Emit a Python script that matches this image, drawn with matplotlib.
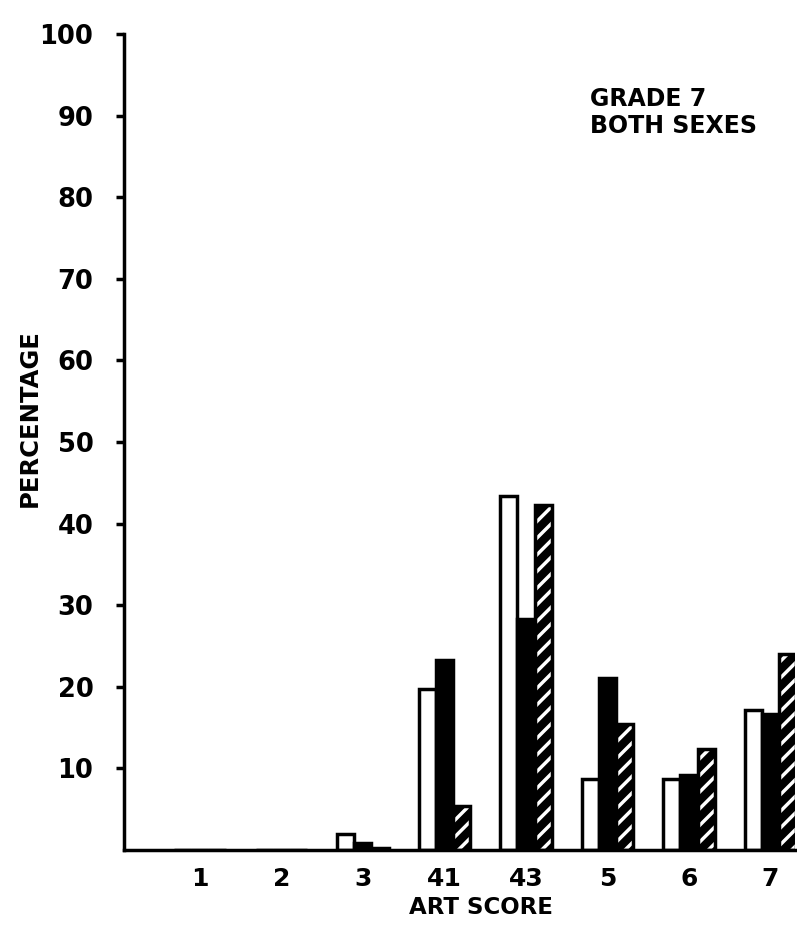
import matplotlib.pyplot as plt
import numpy as np

# Art score categories and percentages
categories = ["1", "2", "3", "41", "43", "5", "6", "7"]
white_vals = [0.0, 0.0, 2.0, 19.7, 43.4, 8.7, 8.7, 17.2]
black_vals = [0.0, 0.0, 0.8, 23.3, 28.3, 21.1, 9.2, 16.7]
hatch_vals = [0.0, 0.0, 0.3, 5.4, 42.3, 15.4, 12.4, 24.0]
y_ticks = [10, 20, 30, 40, 50, 60, 70, 80, 90, 100]

plt.rcParams["font.family"] = ["DejaVu Sans"]
plt.rcParams["hatch.linewidth"] = 6.0
plt.rcParams["hatch.color"] = "black"

fig = plt.figure(figsize=(7.97, 9.39), dpi=100)
ax = fig.add_axes([0.1556, 0.0948, 0.8419, 0.869])

x = np.arange(len(categories))
w = 0.21
ax.bar(x - w, white_vals, w, color="white", edgecolor="black", linewidth=2.5)
ax.bar(x, black_vals, w, color="black", edgecolor="black", linewidth=2.5)
ax.bar(x + w, hatch_vals, w, color="white", edgecolor="black", linewidth=2.5,
       hatch="//")

ax.set_xlim(-0.93, 7.3)
ax.set_ylim(0, 100)

ax.spines["top"].set_visible(False)
ax.spines["right"].set_visible(False)
ax.spines["left"].set_linewidth(2.5)
ax.spines["bottom"].set_linewidth(2.5)

ax.set_yticks(y_ticks)
ax.set_yticklabels([str(t) for t in y_ticks], fontsize=18.5, fontweight="bold")
ax.tick_params(axis="y", direction="out", length=6, width=2.5, pad=16)
ax.set_xticks(x)
ax.set_xticklabels(categories, fontsize=18, fontweight="bold")
ax.tick_params(axis="x", length=0, pad=12)

ax.set_ylabel("PERCENTAGE", fontsize=17.5, fontweight="bold")
ax.yaxis.set_label_coords(-0.122, 0.529)
ax.set_xlabel("ART SCORE", fontsize=16.5, fontweight="bold")
ax.xaxis.set_label_coords(0.532, -0.056)

ax.text(0.694, 0.935, "GRADE 7\nBOTH SEXES", transform=ax.transAxes,
        fontsize=17, fontweight="bold", ha="left", va="top", linespacing=1.15)

fig.savefig("out.png", dpi=100, facecolor="white")
